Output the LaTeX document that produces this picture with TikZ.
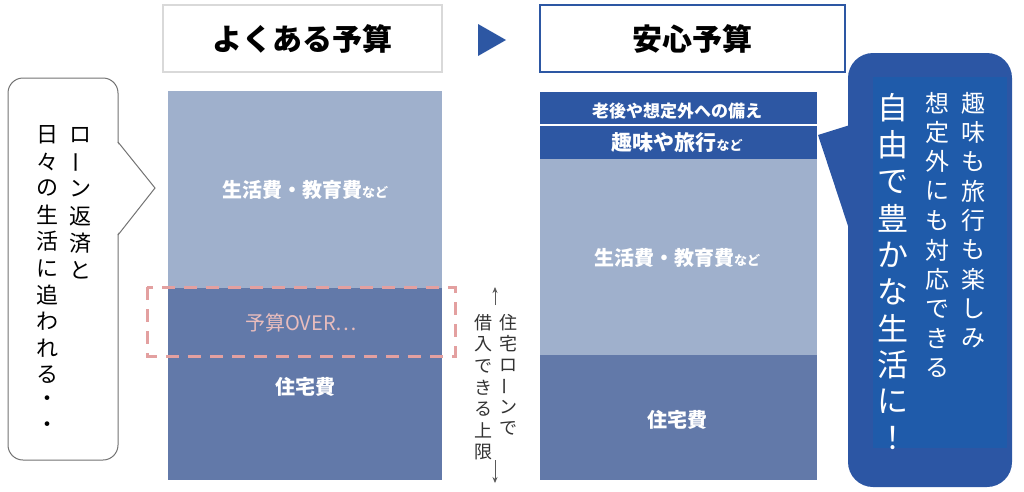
\documentclass[tikz,border=0pt]{standalone}
\usepackage{fontspec}
\usepackage{graphicx}
\setmainfont{Noto Sans CJK JP}
\usetikzlibrary{arrows.meta}
\definecolor{lightcol}{HTML}{9FB0CC}
\definecolor{darkcol}{HTML}{6279A9}
\definecolor{deepblue}{HTML}{2D57A3}
\definecolor{callblue}{HTML}{2C56A4}
\definecolor{innerblue}{HTML}{1F5BAA}
\definecolor{dashpink}{HTML}{E3A0A0}
\definecolor{overpink}{HTML}{E9BDBD}
\newcommand\vbar{\rotatebox[origin=c]{90}{ー}}
\newcommand\vcol[5]{%
  \foreach \ch [count=\i from 0] in {#5}{\node[vchar] (#1\i) at (#2,{#3+\i*#4}) {\ch};}}
\tikzset{
  vchar/.style={inner sep=0pt, anchor=center},
  headtxt/.style={font=\fontsize{30}{30}\selectfont\bfseries, text=black},
  coltxt/.style={font=\fontsize{20}{20}\selectfont\bfseries, text=white, inner sep=0pt}
}
\begin{document}
\begin{tikzpicture}[x=1pt,y=-1pt]
\useasboundingbox (0,0) rectangle (1024,491);
% headers
\draw[line width=2.5pt, draw=black!15] (163,5) rectangle (442,72);
\node[headtxt] (h1) at (302,39) {よくある予算};
\fill[deepblue] (478,24) -- (478,56) -- (506,40) -- cycle;
\draw[line width=2.5pt, draw=deepblue] (540,5) rectangle (845,72);
\node[headtxt] (h2) at (692,39) {安心予算};
% left column
\fill[lightcol] (168,91) rectangle (442,288);
\fill[darkcol] (168,288) rectangle (442,480);
\node[coltxt] (l1) at (305,190) {生活費・教育費{\fontsize{13}{13}\selectfont など}};
\node[font=\fontsize{20}{20}\selectfont, text=overpink, inner sep=0pt] (lover) at (301,323) {予算OVER…};
\node[coltxt] (l2) at (305,387) {住宅費};
\draw[dashpink, line width=3pt, dash pattern=on 13pt off 9pt] (147,287) rectangle (455,356);
% right column
\fill[deepblue] (540,92) rectangle (817,124);
\fill[deepblue] (540,126) rectangle (817,159);
\fill[lightcol] (540,159) rectangle (817,355);
\fill[darkcol] (540,355) rectangle (817,480);
\node[coltxt, font=\fontsize{17}{17}\selectfont\bfseries] (r0) at (677,111) {老後や想定外への備え};
\node[coltxt, font=\fontsize{21}{21}\selectfont\bfseries] (r1) at (677,143) {趣味や旅行{\fontsize{13}{13}\selectfont など}};
\node[coltxt] (r2) at (677,258) {生活費・教育費{\fontsize{13}{13}\selectfont など}};
\node[coltxt] (r3) at (677,420) {住宅費};
% middle arrows and text
\coordinate (au0) at (495,305);
\coordinate (au1) at (495,287);
\coordinate (ad0) at (495,460);
\coordinate (ad1) at (495,483);
\draw[-{Stealth[length=6pt,width=5pt]}, draw=black!65, line width=0.8pt] (au0) -- (au1);
\draw[-{Stealth[length=6pt,width=5pt]}, draw=black!65, line width=0.8pt] (ad0) -- (ad1);
\begin{scope}[every node/.append style={font=\fontsize{18}{18}\selectfont, text=black!80}]
\vcol{ma}{508}{323}{21}{住,宅,ロ,\vbar,ン,で}
\vcol{mb}{483}{323}{21.5}{借,入,で,き,る,上,限}
\end{scope}
% left callout
\draw[draw=black!55, line width=1pt, fill=white, rounded corners=15pt] (8,78) rectangle (118,460);
\fill[white] (116.5,142) -- (155,188) -- (116.5,235) -- cycle;
\coordinate (lp1) at (118,142);
\coordinate (lp2) at (155,188);
\coordinate (lp3) at (118,235);
\draw[draw=black!55, line width=1pt] (lp1) -- (lp2) -- (lp3);
\begin{scope}[every node/.append style={font=\fontsize{22}{22}\selectfont, text=black}]
\vcol{la}{80}{135}{27}{ロ,\vbar,ン,返,済,と}
\vcol{lb}{47}{135}{26.6}{日,々,の,生,活,に,追,わ,れ,る,・,・}
\end{scope}
% right callout
\fill[callblue, rounded corners=25pt] (848,53) rectangle (1012,487);
\fill[callblue] (850,125) -- (818,135) -- (850,232) -- cycle;
\fill[innerblue] (873,77) rectangle (1007,448);
\begin{scope}[every node/.append style={font=\fontsize{24}{24}\selectfont, text=white}]
\vcol{ca}{973}{103}{29.4}{趣,味,も,旅,行,も,楽,し,み}
\vcol{cb}{937}{103}{29.4}{想,定,外,に,も,対,応,で,き,る}
\end{scope}
\begin{scope}[every node/.append style={font=\fontsize{31}{31}\selectfont, text=white}]
\vcol{cc}{893}{108}{36.7}{自,由,で,豊,か,な,生,活,に,！}
\end{scope}
\end{tikzpicture}
\end{document}
